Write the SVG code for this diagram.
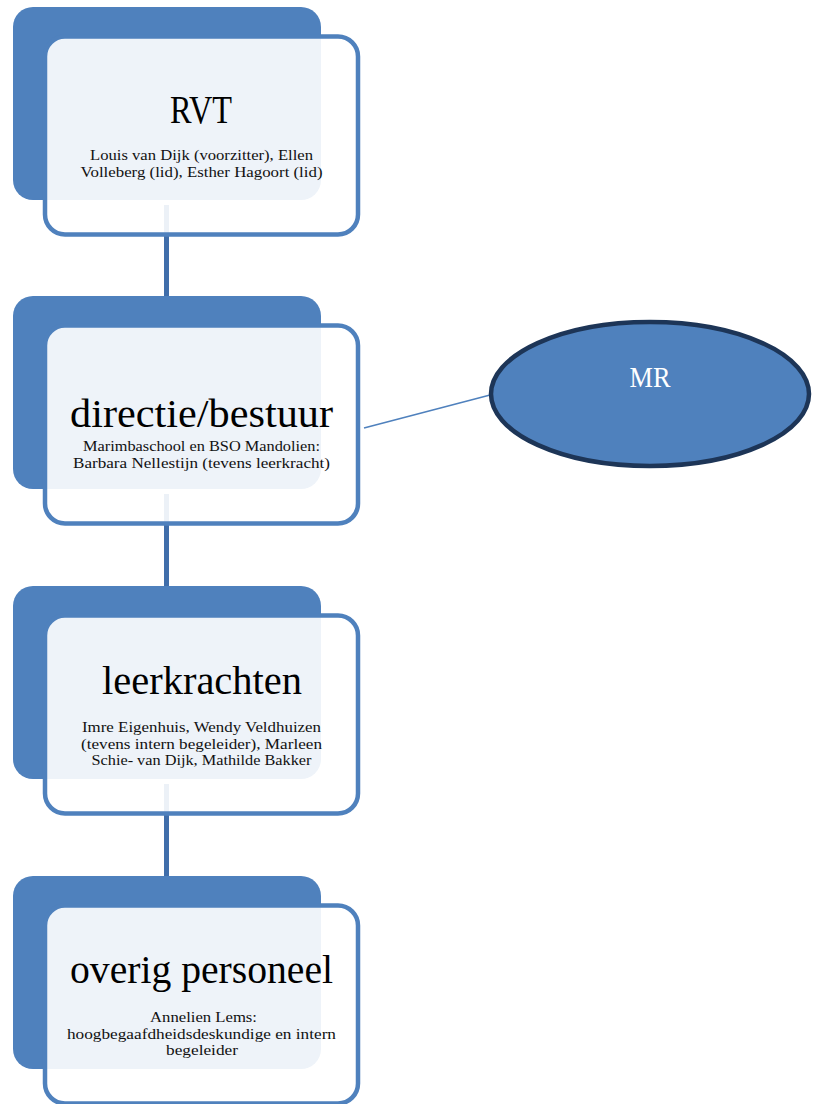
<svg xmlns="http://www.w3.org/2000/svg" width="819" height="1104" viewBox="0 0 819 1104">
<style>
.back{fill:#4F81BD;}
.front{fill:#FFFFFF;fill-opacity:0.9;stroke:#4F81BD;stroke-width:4.5;}
.conn{stroke:#406EAA;stroke-width:5;fill:none;}
.title{font-family:"Liberation Serif","DejaVu Serif",serif;font-size:40px;fill:#000;text-anchor:middle;}
.sub{font-family:"Liberation Serif","DejaVu Serif",serif;font-size:15.5px;fill:#111;text-anchor:middle;}
.mr{font-family:"Liberation Serif","DejaVu Serif",serif;font-size:29px;fill:#FFFFFF;text-anchor:middle;}
</style>
<rect width="819" height="1104" fill="#FFFFFF"/>
<g id="connectors">
<line class="conn" x1="166.5" y1="205" x2="166.5" y2="297"/>
<line class="conn" x1="166.5" y1="494" x2="166.5" y2="587"/>
<line class="conn" x1="166.5" y1="784" x2="166.5" y2="877"/>
<line x1="364" y1="428" x2="492" y2="394.5" stroke="#4F81BD" stroke-width="1.6"/>
</g>
<g id="node-rvt">
<rect class="back" x="13" y="7" width="308" height="193" rx="20"/>
<rect class="front" x="45" y="36.5" width="313" height="198" rx="20"/>
<text class="title" x="201" y="123" textLength="62" lengthAdjust="spacingAndGlyphs">RVT</text>
<text class="sub" x="201.5" y="160" textLength="223" lengthAdjust="spacingAndGlyphs">Louis van Dijk (voorzitter), Ellen</text>
<text class="sub" x="201.5" y="176.5" textLength="242" lengthAdjust="spacingAndGlyphs">Volleberg (lid), Esther Hagoort (lid)</text>
</g>
<g id="node-directie">
<rect class="back" x="13" y="296" width="308" height="193" rx="20"/>
<rect class="front" x="45" y="325.5" width="313" height="198" rx="20"/>
<text class="title" x="201.5" y="427" textLength="263" lengthAdjust="spacingAndGlyphs">directie/bestuur</text>
<text class="sub" x="201.5" y="451" textLength="237" lengthAdjust="spacingAndGlyphs">Marimbaschool en BSO Mandolien:</text>
<text class="sub" x="201.5" y="467.5" textLength="257" lengthAdjust="spacingAndGlyphs">Barbara Nellestijn (tevens leerkracht)</text>
</g>
<g id="node-leerkrachten">
<rect class="back" x="13" y="586" width="308" height="193" rx="20"/>
<rect class="front" x="45" y="615.5" width="313" height="198" rx="20"/>
<text class="title" x="202" y="694" textLength="200" lengthAdjust="spacingAndGlyphs">leerkrachten</text>
<text class="sub" x="201.5" y="732" textLength="239" lengthAdjust="spacingAndGlyphs">Imre Eigenhuis, Wendy Veldhuizen</text>
<text class="sub" x="201.5" y="748.5" textLength="241" lengthAdjust="spacingAndGlyphs">(tevens intern begeleider), Marleen</text>
<text class="sub" x="201.5" y="765" textLength="220" lengthAdjust="spacingAndGlyphs">Schie- van Dijk, Mathilde Bakker</text>
</g>
<g id="node-overig">
<rect class="back" x="13" y="876" width="308" height="193" rx="20"/>
<rect class="front" x="45" y="905.5" width="313" height="198" rx="20"/>
<text class="title" x="201.5" y="983" textLength="263" lengthAdjust="spacingAndGlyphs">overig personeel</text>
<text class="sub" x="203.5" y="1022" textLength="107" lengthAdjust="spacingAndGlyphs">Annelien Lems:</text>
<text class="sub" x="201.5" y="1038.5" textLength="269" lengthAdjust="spacingAndGlyphs">hoogbegaafdheidsdeskundige en intern</text>
<text class="sub" x="202" y="1055" textLength="72" lengthAdjust="spacingAndGlyphs">begeleider</text>
</g>
<g id="node-mr">
<ellipse cx="650" cy="394" rx="159" ry="72" fill="#4F81BD" stroke="#1D3557" stroke-width="4.5"/>
<text class="mr" x="650" y="387" textLength="41" lengthAdjust="spacingAndGlyphs">MR</text>
</g>
</svg>
